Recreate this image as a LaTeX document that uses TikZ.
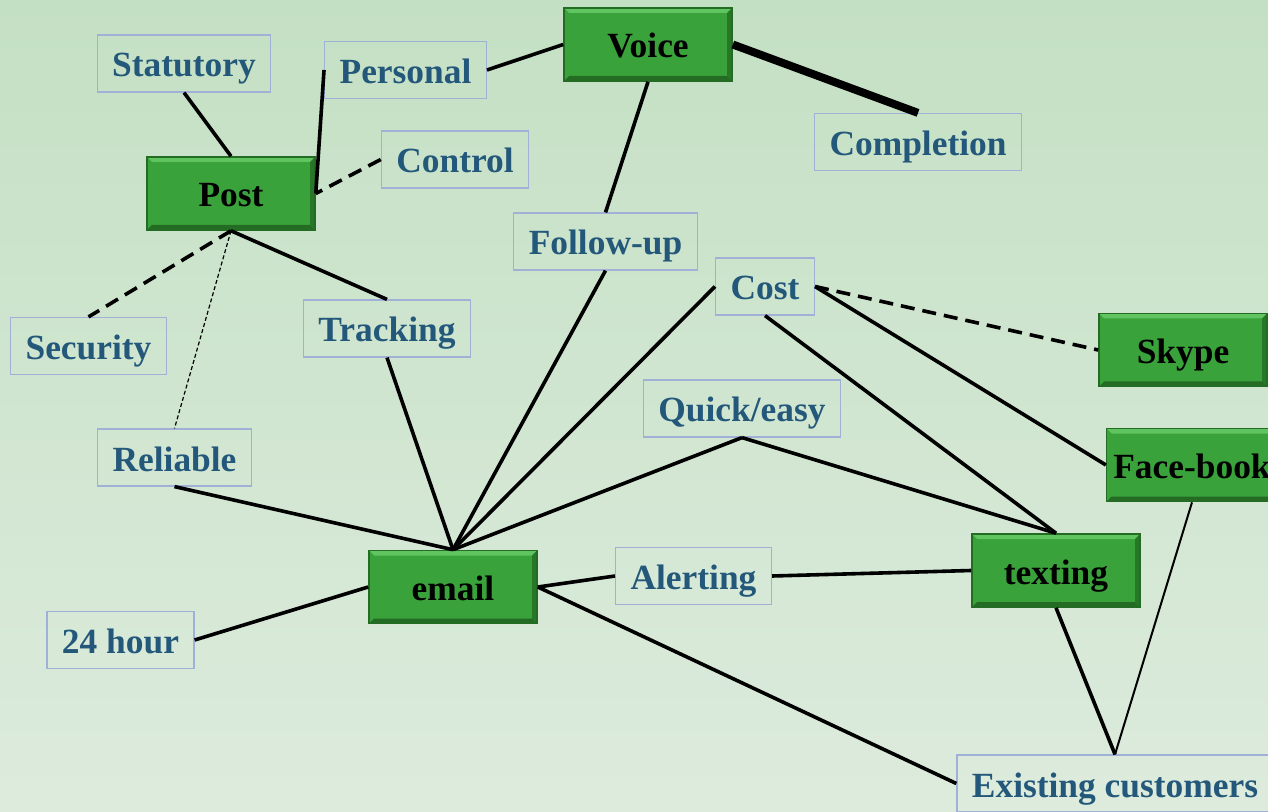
\documentclass[tikz,border=0pt]{standalone}
\usepackage{fontspec}
\setmainfont{Liberation Serif}
\usetikzlibrary{positioning, calc}
\definecolor{chanGreen}{RGB}{58,162,58}
\definecolor{chanLight}{RGB}{96,196,96}
\definecolor{chanDark}{RGB}{36,108,36}
\definecolor{attrText}{RGB}{35,88,122}
\definecolor{attrEdge}{RGB}{160,176,214}
\definecolor{bgTop}{RGB}{196,224,196}
\definecolor{bgBottom}{RGB}{221,235,221}
\tikzset{
  % Channel boxes (green, bevelled)
  channel/.style={rectangle, minimum width=84pt, minimum height=36.5pt, text height=13.5pt, text depth=0pt, text centered, draw=chanDark, line width=0.8pt, fill=chanGreen, text=black, font=\fontsize{17.7}{20}\selectfont\bfseries,
    path picture={
      \fill[chanLight] (path picture bounding box.north west) -- (path picture bounding box.north east) -- ([xshift=-2.5pt,yshift=-2.5pt]path picture bounding box.north east) -- ([xshift=2.5pt,yshift=-2.5pt]path picture bounding box.north west) -- cycle;
      \fill[chanDark] (path picture bounding box.south west) -- (path picture bounding box.south east) -- ([xshift=-2.5pt,yshift=2.5pt]path picture bounding box.south east) -- ([xshift=2.5pt,yshift=2.5pt]path picture bounding box.south west) -- cycle;
      \fill[chanDark!80!chanGreen] (path picture bounding box.north east) -- (path picture bounding box.south east) -- ([xshift=-2.5pt,yshift=2.5pt]path picture bounding box.south east) -- ([xshift=-2.5pt,yshift=-2.5pt]path picture bounding box.north east) -- cycle;
    }},
  % Attribute labels
  attr/.style={rectangle, minimum height=28.5pt, text height=13.5pt, text depth=0pt, inner xsep=7.5pt, text centered, draw=attrEdge, line width=0.6pt, text=attrText, font=\fontsize{17.7}{20}\selectfont\bfseries},
  % Links
  link/.style={line width=1.8pt},
  heavy/.style={line width=4pt},
  thinlink/.style={line width=1pt},
  dashlink/.style={line width=1.8pt, dash pattern=on 7pt off 4pt},
  faint/.style={line width=0.6pt, dash pattern=on 2pt off 1.2pt},
}

\begin{document}
\begin{tikzpicture}[x=0.5pt, y=-0.5pt]
    % Background
    \shade[top color=bgTop, bottom color=bgBottom] (0,0) rectangle (1268,812);
    \useasboundingbox (0,0) rectangle (1268,812);
    \clip (0,0) rectangle (1268,812);

    % Channels
    \node[channel] (post) at (231,193.5) {Post};
    \node[channel] (voice) at (648,44.5) {Voice};
    \node[channel] (skype) at (1183,350) {Skype};
    \node[channel] (facebook) at (1192,465) {Face-book};
    \node[channel] (texting) at (1056,570.5) {texting};
    \node[channel] (email) at (453,587) {email};

    % Attributes
    \node[attr] (statutory) at (184,63.5) {Statutory};
    \node[attr] (personal) at (405.5,70) {Personal};
    \node[attr] (control) at (455,159.5) {Control};
    \node[attr] (completion) at (918,142) {Completion};
    \node[attr] (followup) at (605.5,241.5) {Follow-up};
    \node[attr] (cost) at (765,286.5) {Cost};
    \node[attr] (security) at (88.5,346) {Security};
    \node[attr] (tracking) at (387,328.5) {Tracking};
    \node[attr] (quick) at (742,408.5) {Quick/easy};
    \node[attr] (reliable) at (174.5,457.5) {Reliable};
    \node[attr] (alerting) at (693.5,576) {Alerting};
    \node[attr] (hour) at (120.5,640) {24 hour};
    \node[attr] (existing) at (1115,783.5) {Existing customers};

    % Links
    \draw[link] (statutory.south) -- (post.north);
    \draw[link] (personal.west) -- (post.east);
    \draw[dashlink] (control.west) -- (post.east);
    \draw[link] (personal.east) -- (voice.west);
    \draw[heavy] (voice.east) -- (completion.north);
    \draw[link] (voice.south) -- (followup.north);
    \draw[dashlink] (post.south) -- (security.north);
    \draw[faint] (post.south) -- (reliable.north);
    \draw[link] (post.south) -- (tracking.north);
    \draw[link] (tracking.south) -- (email.north);
    \draw[link] (reliable.south) -- (email.north);
    \draw[link] (followup.south) -- (email.north);
    \draw[link] (cost.west) -- (email.north);
    \draw[link] (quick.south) -- (email.north);
    \draw[dashlink] (cost.east) -- (skype.west);
    \draw[link] (cost.east) -- (facebook.west);
    \draw[link] (cost.south) -- (texting.north);
    \draw[link] (quick.south) -- (texting.north);
    \draw[link] (email.east) -- (alerting.west);
    \draw[link] (alerting.east) -- (texting.west);
    \draw[link] (hour.east) -- (email.west);
    \draw[link] (email.east) -- (existing.west);
    \draw[link] (texting.south) -- (existing.north);
    \draw[thinlink] (facebook.south) -- (existing.north);
  \end{tikzpicture}
\end{document}
